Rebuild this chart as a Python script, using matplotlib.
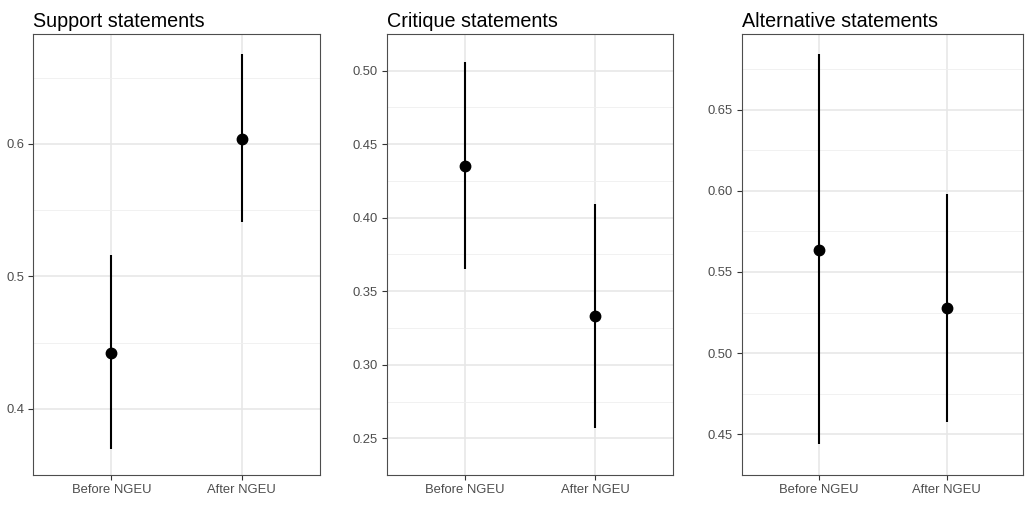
import matplotlib
matplotlib.use("Agg")
import matplotlib.pyplot as plt
import numpy as np

plt.rcParams['font.family'] = ['Liberation Sans', 'DejaVu Sans']

periods = ["Before NGEU", "After NGEU"]
titles = ["Support statements", "Critique statements", "Alternative statements"]

support_est = [0.442, 0.604]
support_lo = [0.3695, 0.541]
support_hi = [0.516, 0.668]

critique_est = [0.4354, 0.3329]
critique_lo = [0.3654, 0.2567]
critique_hi = [0.5062, 0.4095]

alt_est = [0.5638, 0.5277]
alt_lo = [0.444, 0.4574]
alt_hi = [0.6845, 0.598]

major_ticks = [
    [0.4, 0.5, 0.6],
    [0.25, 0.30, 0.35, 0.40, 0.45, 0.50],
    [0.45, 0.50, 0.55, 0.60, 0.65],
]
tick_fmt = ["{:.1f}", "{:.2f}", "{:.2f}"]
minor_step = [0.05, 0.025, 0.025]

panels = [
    (support_est, support_lo, support_hi),
    (critique_est, critique_lo, critique_hi),
    (alt_est, alt_lo, alt_hi),
]

fig = plt.figure(figsize=(10.29, 5.05), dpi=100)
lefts = [0.0321, 0.3758, 0.7208]
widths = [0.2789, 0.2785, 0.2737]

for i, (est, lo, hi) in enumerate(panels):
    ax = fig.add_axes([lefts[i], 0.0594, widths[i], 0.8733])
    x = np.arange(1, len(periods) + 1)
    ax.vlines(x, lo, hi, color='black', linewidth=1.5, zorder=3)
    ax.plot(x, est, 'o', color='black', markersize=7.5, zorder=4)

    # ggplot-style expansion
    ymin, ymax = min(lo), max(hi)
    pad = (ymax - ymin) * 0.05
    ax.set_ylim(ymin - pad, ymax + pad)
    ax.set_xlim(0.4, len(periods) + 0.6)

    ax.set_xticks(x)
    ax.set_xticklabels(periods)
    ax.set_yticks(major_ticks[i])
    ax.set_yticklabels([tick_fmt[i].format(t) for t in major_ticks[i]])
    minors = [t + minor_step[i] for t in major_ticks[i]] + [major_ticks[i][0] - minor_step[i]]
    ax.set_yticks(minors, minor=True)

    ax.grid(True, which='major', color='#e6e6e6', linewidth=1.1, zorder=0)
    ax.grid(True, which='minor', axis='y', color='#efefef', linewidth=0.6, zorder=0)
    ax.set_axisbelow(True)
    ax.tick_params(axis='both', which='major', direction='out', length=3.5, width=0.8,
                   color='#333333', labelcolor='#4d4d4d', labelsize=9.4, pad=3)
    ax.tick_params(axis='y', which='minor', length=0)
    for s in ax.spines.values():
        s.set_color('#4d4d4d')
        s.set_linewidth(0.8)
    ax.set_title(titles[i], loc='left', fontsize=14.2, color='black', pad=5)

fig.savefig("out.png", dpi=100)
